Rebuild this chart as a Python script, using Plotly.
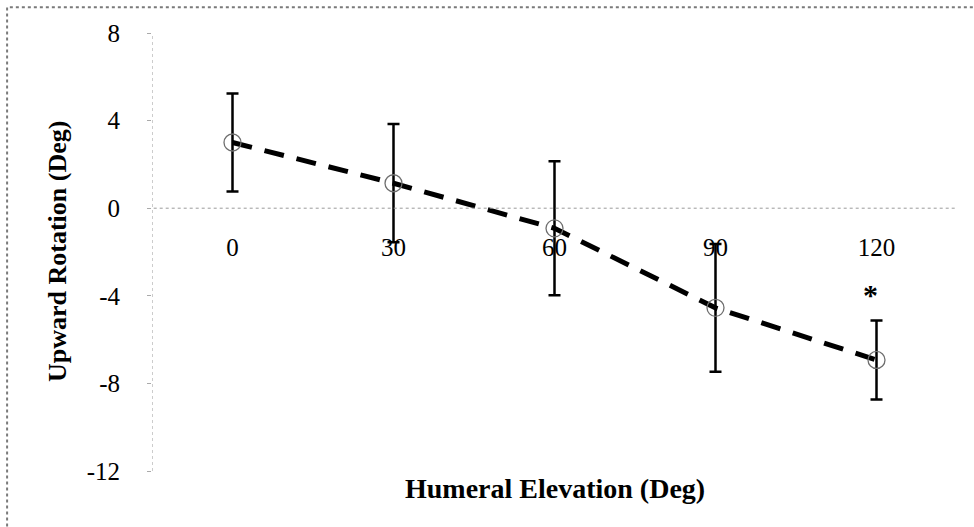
import plotly.graph_objects as go

# Data
elevation = [0, 30, 60, 90, 120]
rotation_mean = [3.0, 1.14, -0.92, -4.55, -6.93]
rotation_sd = [2.24, 2.7, 3.06, 2.92, 1.8]
significance = ["", "", "", "", "*"]
y_ticks = [-12, -8, -4, 0, 4, 8]
y_tick_labels = ["-12", "-8", "-4", "0", "4", "8"]
x_title = "Humeral Elevation (Deg)"
y_title = "Upward Rotation (Deg)"

FONT = "Liberation Serif, Times New Roman, serif"

fig = go.Figure()

fig.add_trace(go.Scatter(
    x=elevation, y=rotation_mean,
    mode="lines+markers",
    line=dict(color="black", width=5, dash="20px,13px"),
    marker=dict(symbol="circle-open", size=17, color="#6e6e6e", line=dict(width=1.3, color="#6e6e6e")),
    error_y=dict(type="data", array=rotation_sd, visible=True, color="black", thickness=2.5, width=6),
    showlegend=False,
    hoverinfo="x+y",
))

# significance markers
for xv, m, s, sig in zip(elevation, rotation_mean, rotation_sd, significance):
    if sig:
        fig.add_annotation(x=xv, y=m + s, xref="x", yref="y", text="<b>%s</b>" % sig, showarrow=False,
                           xshift=-6, yshift=26, font=dict(family=FONT, size=30, color="black"))

# zero line (dotted) and y axis line (dotted)
fig.add_shape(type="line", xref="x", yref="y", x0=-15.8, x1=135, y0=0, y1=0,
              line=dict(color="#9a9a9a", width=1, dash="dot"))
fig.add_shape(type="line", xref="x", yref="y", x0=-15, x1=-15, y0=-12, y1=8,
              line=dict(color="#9a9a9a", width=1, dash="dot"))

# outer dotted frame
fig.add_shape(type="rect", xref="paper", yref="paper", x0=-0.18, x1=1.05, y0=-0.2, y1=1.059,
              line=dict(color="#7a7a7a", width=2, dash="dot"), layer="below")

# axis titles
fig.add_annotation(x=0.5, y=-0.039, xref="paper", yref="paper", text="<b>%s</b>" % x_title,
                   showarrow=False, font=dict(family=FONT, size=28, color="black"),
                   xanchor="center", yanchor="middle")
fig.add_annotation(x=-0.118, y=0.5, xref="paper", yref="paper", text="<b>%s</b>" % y_title,
                   showarrow=False, textangle=-90, font=dict(family=FONT, size=26, color="black"),
                   xanchor="center", yanchor="middle")

fig.update_layout(
    width=974, height=527,
    margin=dict(l=152, r=17, t=33, b=56),
    paper_bgcolor="white", plot_bgcolor="white",
    font=dict(family=FONT, size=25, color="black"),
    xaxis=dict(range=[-15, 135], tickvals=elevation, ticktext=[str(v) for v in elevation],
               showgrid=False, zeroline=False, showline=False, ticks="",
               anchor="free", position=0.6, ticklabelstandoff=22,
               tickfont=dict(family=FONT, size=25, color="black")),
    yaxis=dict(range=[-12, 8], tickvals=y_ticks, ticktext=y_tick_labels,
               showgrid=False, zeroline=False, showline=False,
               ticks="outside", ticklen=4, tickcolor="#aaaaaa", ticklabelstandoff=22,
               tickfont=dict(family=FONT, size=25, color="black")),
)

fig.write_html("out.html")
